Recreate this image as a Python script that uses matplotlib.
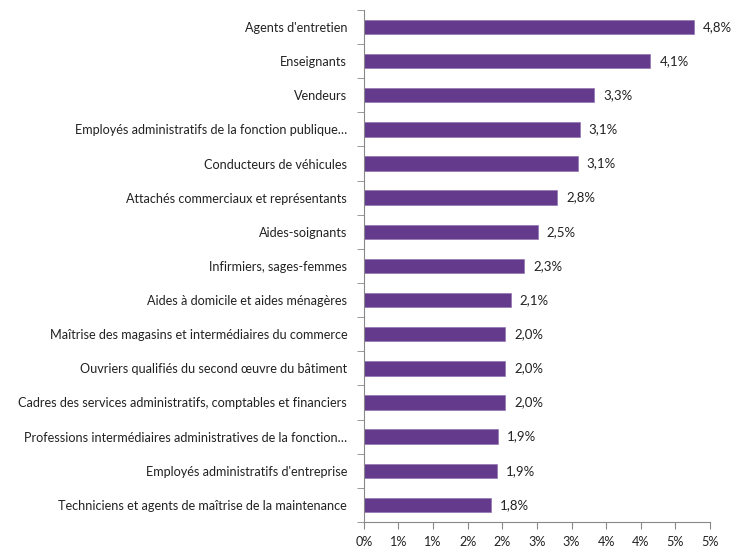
import matplotlib.pyplot as plt
import numpy as np
from matplotlib.ticker import FixedLocator, FuncFormatter

plt.rcParams['font.family'] = ['Lato', 'DejaVu Sans']

# Data (top to bottom)
metiers = [
    "Agents d'entretien",
    "Enseignants",
    "Vendeurs",
    "Employés administratifs de la fonction publique…",
    "Conducteurs de véhicules",
    "Attachés commerciaux et représentants",
    "Aides-soignants",
    "Infirmiers, sages-femmes",
    "Aides à domicile et aides ménagères",
    "Maîtrise des magasins et intermédiaires du commerce",
    "Ouvriers qualifiés du second œuvre du bâtiment",
    "Cadres des services administratifs, comptables et financiers",
    "Professions intermédiaires administratives de la fonction…",
    "Employés administratifs d'entreprise",
    "Techniciens et agents de maîtrise de la maintenance",
]
parts = [4.77, 4.14, 3.33, 3.12, 3.09, 2.79, 2.51, 2.32, 2.12, 2.04, 2.04, 2.04, 1.94, 1.92, 1.84]
x_ticks = [0, 0.5, 1, 1.5, 2, 2.5, 3, 3.5, 4, 4.5, 5]

fig = plt.figure(figsize=(7.35, 5.5), dpi=100)
ax = fig.add_axes([0.495, 0.051, 0.471, 0.931])

y = np.arange(len(metiers))[::-1]
ax.barh(y, parts, height=0.42, color='#643A8C', edgecolor='#8A6AAA', linewidth=0.4)

for yi, v in zip(y, parts):
    ax.text(v + 0.13, yi, f"{v:.1f}%".replace('.', ','), va='center', ha='left',
            fontsize=9.5, color='#222222')

ax.set_xlim(0, 5)
ax.set_ylim(-0.5, len(metiers) - 0.5)
ax.xaxis.set_major_locator(FixedLocator(x_ticks))
ax.xaxis.set_major_formatter(FuncFormatter(lambda v, p: f"{int(np.floor(v + 0.5))}%"))
ax.set_yticks(y)
ax.set_yticklabels(metiers)
ax.set_yticks(np.arange(-0.5, len(metiers), 1), minor=True)
ax.tick_params(axis='y', which='major', length=0, pad=12, labelsize=9.1, colors='#222222')
ax.tick_params(axis='y', which='minor', length=5, color='#888888', direction='out')
ax.tick_params(axis='x', length=5, color='#888888', labelsize=9.1, labelcolor='#222222', pad=5)

for s in ['top', 'right']:
    ax.spines[s].set_visible(False)
for s in ['left', 'bottom']:
    ax.spines[s].set_color('#888888')
    ax.spines[s].set_linewidth(0.8)

plt.savefig('out.png', dpi=100)
